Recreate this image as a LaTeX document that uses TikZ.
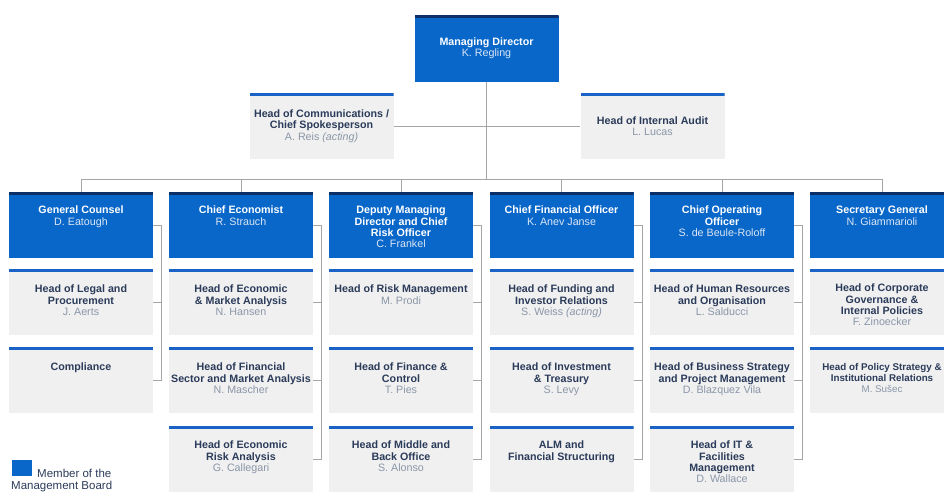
\documentclass[tikz,border=0pt]{standalone}
\usepackage{fontspec}
\setmainfont{Liberation Sans}

\definecolor{boardblue}{HTML}{0867C9}
\definecolor{navyline}{HTML}{0B2F66}
\definecolor{boardname}{HTML}{DCE6F5}
\definecolor{unitgrey}{HTML}{F0F0F0}
\definecolor{unitline}{HTML}{1A63C6}
\definecolor{headtext}{HTML}{2B3B5A}
\definecolor{nametext}{HTML}{8A96A8}
\definecolor{linkgrey}{HTML}{A5A5A5}
\colorlet{whocol}{nametext}

\newcommand{\inbox}[2][11pt]{\parbox[c][60pt][t]{143pt}{\centering\vspace*{#1}#2}}
\newcommand{\who}[1]{{\mdseries\color{whocol}#1}}

\begin{document}
\begin{tikzpicture}[x=1pt, y=-1pt]
\tikzset{board/.style={fill=boardblue, text=white, minimum width=144pt, minimum height=66pt, inner sep=0pt, align=center,
    font=\fontsize{10.7}{11.3}\selectfont\bfseries, execute at begin node={\colorlet{whocol}{boardname}},
    path picture={\draw[navyline, line width=5pt] (path picture bounding box.north west) -- (path picture bounding box.north east);}}}
\tikzset{unit/.style={fill=unitgrey, text=headtext, minimum width=144pt, minimum height=66pt, inner sep=0pt, align=center,
    font=\fontsize{10.7}{11.3}\selectfont\bfseries,
    path picture={\draw[unitline, line width=6pt] (path picture bounding box.north west) -- (path picture bounding box.north east);}}}
\tikzset{link/.style={draw=linkgrey, line width=0.8pt}}
\useasboundingbox (0,0) rectangle (944,491);
\clip (0,0) rectangle (944,491);
\node[board] (md) at (486.5,48.5) {\inbox[19pt]{Managing Director\\\who{K. Regling}}};
\node[unit] (comm) at (321.5,126) {Head of Communications /\\Chief Spokesperson\\\who{A. Reis \textit{(acting)}}};
\node[unit] (audit) at (652.5,126) {Head of Internal Audit\\\who{L. Lucas}};
\node[board] (gc) at (81,225) {\inbox{General Counsel\\\who{D. Eatough}}};
\node[board] (ce) at (241,225) {\inbox{Chief Economist\\\who{R. Strauch}}};
\node[board] (dmd) at (401,225) {\inbox{Deputy Managing\\Director and Chief\\Risk Officer\\\who{C. Frankel}}};
\node[board] (cfo) at (561.5,225) {\inbox{Chief Financial Officer\\\who{K. Anev Janse}}};
\node[board] (coo) at (722,225) {\inbox{Chief Operating\\Officer\\\who{S. de Beule-Roloff}}};
\node[board] (sg) at (882,225) {\inbox{Secretary General\\\who{N. Giammarioli}}};
\node[unit] (legal) at (81,302) {\inbox[13pt]{Head of Legal and\\Procurement\\\who{J. Aerts}}};
\node[unit] (ema) at (241,302) {\inbox[13pt]{Head of Economic\\\& Market Analysis\\\who{N. Hansen}}};
\node[unit] (risk) at (401,302) {\inbox[13pt]{Head of Risk Management\\\who{M. Prodi}}};
\node[unit] (funding) at (561.5,302) {\inbox[13pt]{Head of Funding and\\Investor Relations\\\who{S. Weiss \textit{(acting)}}}};
\node[unit] (hr) at (722,302) {\inbox[13pt]{Head of Human Resources\\and Organisation\\\who{L. Salducci}}};
\node[unit] (corp) at (882,302) {\inbox[12pt]{Head of Corporate\\Governance \&\\Internal Policies\\\who{F. Zinoecker}}};
\node[unit] (comp) at (81,380) {\inbox[13pt]{Compliance}};
\node[unit] (fsma) at (241,380) {\inbox[13pt]{Head of Financial\\Sector and Market Analysis\\\who{N. Mascher}}};
\node[unit] (finctrl) at (401,380) {\inbox[13pt]{Head of Finance \&\\Control\\\who{T. Pies}}};
\node[unit] (invest) at (561.5,380) {\inbox[13pt]{Head of Investment\\\& Treasury\\\who{S. Levy}}};
\node[unit] (bspm) at (722,380) {\inbox[13pt]{Head of Business Strategy\\and Project Management\\\who{D. Blazquez Vila}}};
\node[unit, font=\fontsize{9.8}{11.3}\selectfont\bfseries] (policy) at (882,380) {\inbox[13pt]{Head of Policy Strategy \&\\Institutional Relations\\\who{M. Sušec}}};
\node[unit] (era) at (241,459) {\inbox[12pt]{Head of Economic\\Risk Analysis\\\who{G. Callegari}}};
\node[unit] (mbo) at (401,459) {\inbox[12pt]{Head of Middle and\\Back Office\\\who{S. Alonso}}};
\node[unit] (alm) at (561.5,459) {\inbox[12pt]{ALM and\\Financial Structuring}};
\node[unit] (itfm) at (722,459) {\inbox[12pt]{Head of IT \&\\Facilities\\Management\\\who{D. Wallace}}};
\node[fill=boardblue, minimum width=20pt, minimum height=16pt, inner sep=0pt] (key) at (22,468) {};
\node[anchor=north west, align=left, inner sep=0pt, text=headtext, font=\fontsize{11.5}{12}\selectfont] (keytext) at (11,469) {\hspace*{26pt}Member of the\\Management Board};
\draw[link] (comm.east) -- (audit.west);
\draw[link] (md.south) -- ([yshift=12pt]md.south |- gc.north);
\draw[link] (gc.north) -- ++(0,-12) -| (sg.north);
\draw[link] (ce.north) -- ++(0,-12);
\draw[link] (dmd.north) -- ++(0,-12);
\draw[link] (cfo.north) -- ++(0,-12);
\draw[link] (coo.north) -- ++(0,-12);
\draw[link] (gc.east) -| ([xshift=8.5pt]comp.east) -- (comp.east);
\draw[link] (legal.east) -- ++(8.5,0);
\draw[link] (ce.east) -| ([xshift=8.5pt]era.east) -- (era.east);
\draw[link] (ema.east) -- ++(8.5,0);
\draw[link] (fsma.east) -- ++(8.5,0);
\draw[link] (dmd.east) -| ([xshift=8.5pt]mbo.east) -- (mbo.east);
\draw[link] (risk.east) -- ++(8.5,0);
\draw[link] (finctrl.east) -- ++(8.5,0);
\draw[link] (cfo.east) -| ([xshift=8.5pt]alm.east) -- (alm.east);
\draw[link] (funding.east) -- ++(8.5,0);
\draw[link] (invest.east) -- ++(8.5,0);
\draw[link] (coo.east) -| ([xshift=8.5pt]itfm.east) -- (itfm.east);
\draw[link] (hr.east) -- ++(8.5,0);
\draw[link] (bspm.east) -- ++(8.5,0);
\end{tikzpicture}
\end{document}
